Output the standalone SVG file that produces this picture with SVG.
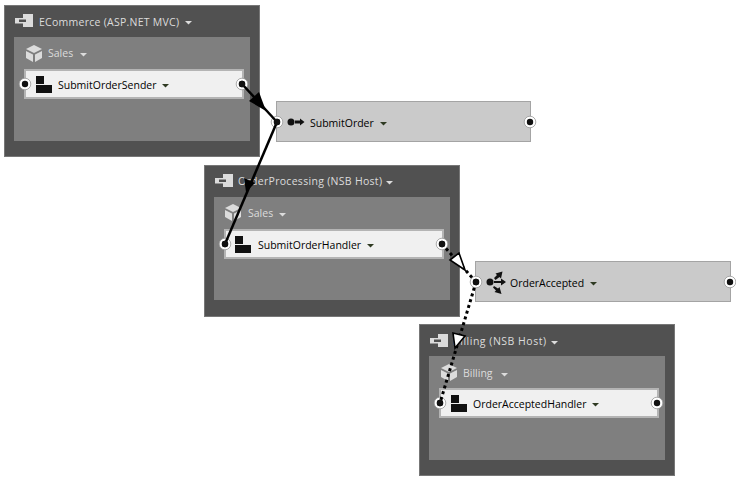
<svg xmlns="http://www.w3.org/2000/svg" width="736" height="483" viewBox="0 0 736 483">
<defs>
<style>
text{font-family:"Open Sans","Noto Sans","Liberation Sans",sans-serif;font-size:10.5px}
.host{fill:#515151;stroke:#777;stroke-width:1}
.inner{fill:#7f7f7f}
.comp{fill:#f0f0f0;stroke:#b4b4b4;stroke-width:2}
.msg{fill:#cacaca;stroke:#a4a4a4;stroke-width:1}
.lt{fill:#dcdcdc}
.dk{fill:#111}
.solid{stroke:#000;stroke-width:2.5;fill:none}
.dot{stroke:#000;stroke-width:3;stroke-dasharray:3 3;fill:none}
.wh{fill:#fff;stroke:#000;stroke-width:1.6}
</style>
<g id="hostIcon"><path class="lt" d="M8 0h10v13H8V9.500H0V4h8z"/><path d="M4 5.500h7v2.500H4z" fill="#515151"/></g>
<g id="cubeIcon"><path class="lt" d="M8 0l8 4-8 4-8-4zM0 6l7 3.500V17l-7-4zM16 6l-7 3.500V17l7-4z"/></g>
<g id="compIcon"><path class="dk" d="M0 0h8v8H0zM0 9h16v8H0z"/></g>
<path id="arrL" class="lt" d="M0 0h7l-3.500 3.500z"/>
<path id="arrD" d="M0 0h7l-3.500 3.500z" fill="#2f3a22"/>
<g id="p"><circle r="5.800" fill="#fff" stroke="#999" stroke-width=".8"/><circle r="3.200" fill="#111"/></g>
</defs>
<rect width="736" height="483" fill="#fff"/>

<g id="node-ecommerce">
<rect class="host" x="4.500" y="5.500" width="255" height="151"/>
<use href="#hostIcon" x="15" y="14"/>
<text x="39" y="26" class="lt" textLength="140">ECommerce (ASP.NET MVC)</text>
<use href="#arrL" x="185" y="21"/>
<rect class="inner" x="14" y="37" width="236" height="104"/>
<use href="#cubeIcon" x="26" y="45"/>
<text x="48" y="57" class="lt">Sales</text>
<use href="#arrL" x="80" y="53"/>
<rect class="comp" x="25" y="70" width="218" height="28"/>
<use href="#compIcon" x="36" y="76"/>
<text x="58" y="89" fill="#000">SubmitOrderSender</text>
<use href="#arrD" x="162" y="84"/>
<use href="#p" x="25" y="84"/>
<use href="#p" x="242" y="84"/>
</g>

<g id="node-submitorder">
<rect class="msg" x="276.500" y="101.500" width="254" height="40"/>
<circle class="dk" cx="291" cy="122" r="3.500"/>
<path class="dk" d="M295 120.500h5v-2l4.500 3.500-4.500 3.500v-2h-5z"/>
<text x="310" y="127" fill="#000">SubmitOrder</text>
<use href="#arrD" x="380" y="122"/>
<use href="#p" x="277" y="122"/>
<use href="#p" x="530" y="122"/>
</g>

<g id="node-orderprocessing">
<rect class="host" x="204.500" y="165.500" width="255" height="151"/>
<use href="#hostIcon" x="215" y="174"/>
<text x="238" y="185" class="lt" textLength="144">OrderProcessing  (NSB Host)</text>
<use href="#arrL" x="386" y="181"/>
<rect class="inner" x="214" y="197" width="236" height="103"/>
<use href="#cubeIcon" x="225" y="204"/>
<text x="248" y="217" class="lt">Sales</text>
<use href="#arrL" x="279" y="213"/>
<rect class="comp" x="225" y="230" width="218" height="28"/>
<use href="#compIcon" x="235" y="236"/>
<text x="258" y="249" fill="#000">SubmitOrderHandler</text>
<use href="#arrD" x="367" y="244"/>
<use href="#p" x="225" y="244"/>
<use href="#p" x="442" y="244"/>
</g>

<g id="node-orderaccepted">
<rect class="msg" x="475.500" y="261.500" width="255" height="40"/>
<circle class="dk" cx="490" cy="282" r="3.500"/>
<path class="dk" d="M494 278l3-3-1.500-1.500 7-2-1.500 7-1.500-1.500-4 3zM494 281h7v-2.500l5 3.500-5 3.500V283h-7zM494 286l4 2.500 1.500-1.500 2 7-7-2 1.500-1.500-3-3z"/>
<text x="510" y="287" fill="#000">OrderAccepted</text>
<use href="#arrD" x="590" y="282"/>
<use href="#p" x="476" y="282"/>
<use href="#p" x="730" y="282"/>
</g>

<g id="node-billing">
<rect class="host" x="419.500" y="324.500" width="255" height="151"/>
<use href="#hostIcon" x="430" y="334"/>
<text x="453" y="345" class="lt" textLength="93">Billing (NSB Host)</text>
<use href="#arrL" x="551" y="341"/>
<rect class="inner" x="429" y="356" width="236" height="104"/>
<use href="#cubeIcon" x="441" y="364"/>
<text x="463" y="377" class="lt">Billing</text>
<use href="#arrL" x="501" y="373"/>
<rect class="comp" x="440" y="389" width="218" height="28"/>
<use href="#compIcon" x="451" y="395"/>
<text x="473" y="408" fill="#000">OrderAcceptedHandler</text>
<use href="#arrD" x="592" y="403"/>
<use href="#p" x="440" y="403"/>
<use href="#p" x="657" y="403"/>
</g>

<g id="connectors">
<path class="solid" d="M242 84L277 122"/>
<path d="M266 111L249 101 259 92z" fill="#000"/>
<path class="solid" d="M277 122L225 244"/>
<path d="M246 192L244 178 255 183z" fill="#000"/>
<path class="dot" d="M442 244L476 282"/>
<path class="wh" d="M465 270L450 260 459 253z"/>
<path class="dot" d="M476 282L440 403"/>
<path class="wh" d="M455 348L453 333 465 336z"/>
<circle class="dk" cx="242" cy="84" r="3.200"/>
<circle class="dk" cx="277" cy="122" r="3.200"/>
<circle class="dk" cx="225" cy="244" r="3.200"/>
<circle class="dk" cx="442" cy="244" r="3.200"/>
<circle class="dk" cx="476" cy="282" r="3.200"/>
<circle class="dk" cx="440" cy="403" r="3.200"/>
</g>
</svg>
